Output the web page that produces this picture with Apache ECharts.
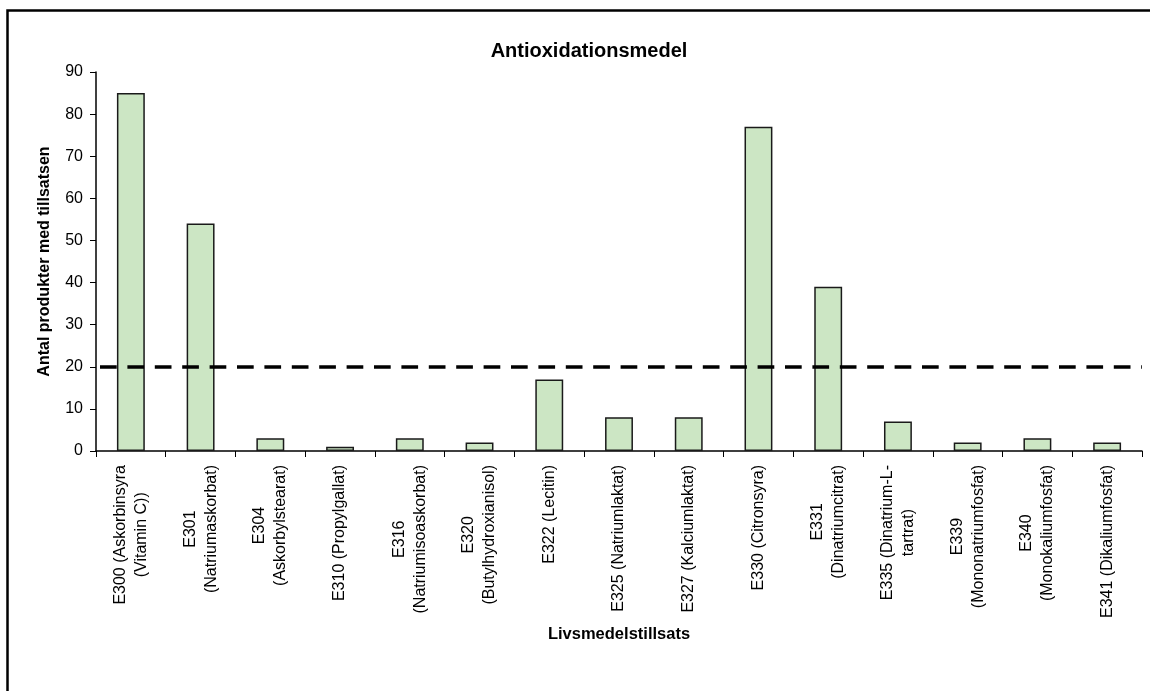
<!DOCTYPE html>
<html>
<head>
<meta charset="utf-8">
<title>Antioxidationsmedel</title>
<script src="https://cdn.jsdelivr.net/npm/echarts@6/dist/echarts.min.js"></script>
<style>
  html, body { margin: 0; padding: 0; background: #fff; }
  #chart { width: 1150px; height: 691px; }
</style>
</head>
<body>
<div id="chart"></div>
<script>
// Additives (E-numbers) with their names, line-broken as on the axis
const categories = [
  'E300 (Askorbinsyra\n(Vitamin C))',
  'E301\n(Natriumaskorbat)',
  'E304\n(Askorbylstearat)',
  'E310 (Propylgallat)',
  'E316\n(Natriumisoaskorbat)',
  'E320\n(Butylhydroxianisol)',
  'E322 (Lecitin)',
  'E325 (Natriumlaktat)',
  'E327 (Kalciumlaktat)',
  'E330 (Citronsyra)',
  'E331\n(Dinatriumcitrat)',
  'E335 (Dinatrium-L-\ntartrat)',
  'E339\n(Mononatriumfosfat)',
  'E340\n(Monokaliumfosfat)',
  'E341 (Dikaliumfosfat)'
];

// Number of products containing each additive
const productCounts = [85, 54, 3, 1, 3, 2, 17, 8, 8, 77, 39, 7, 2, 3, 2];

// Reference level drawn as a dashed horizontal line
const referenceLevel = 20;

// Value axis range
const yMin = 0;
const yMax = 90;
const yStep = 10;

const FONT = '"Liberation Sans", Arial, sans-serif';

const chart = echarts.init(document.getElementById('chart'));

chart.setOption({
  animation: false,
  backgroundColor: '#ffffff',
  title: {
    text: 'Antioxidationsmedel',
    left: 584,
    top: 36,
    textAlign: 'center',
    textStyle: { fontFamily: FONT, fontSize: 20, fontWeight: 'bold', color: '#000' }
  },
  graphic: [{
    type: 'rect',
    z: -1,
    silent: true,
    shape: { x: 7.5, y: 10.5, width: 1300, height: 1000 },
    style: { fill: 'none', stroke: '#000', lineWidth: 2.5 }
  }],
  grid: { left: 96, right: 8, top: 72, bottom: 240, containLabel: false },
  xAxis: {
    type: 'category',
    data: categories,
    name: 'Livsmedelstillsats',
    nameLocation: 'middle',
    nameGap: 167,
    nameTextStyle: { fontFamily: FONT, fontSize: 16.5, fontWeight: 'bold', color: '#000' },
    axisLine: { lineStyle: { color: '#000', width: 1.5 } },
    axisTick: { show: true, length: 6, lineStyle: { color: '#000', width: 1 } },
    axisLabel: {
      interval: 0,
      rotate: 90,
      margin: 14,
      formatter: function (v) {
        return v.split('\n').map(function (s) { return '{c|' + s + '}'; }).join('\n');
      },
      rich: {
        c: { align: 'center', fontFamily: FONT, fontSize: 16, lineHeight: 21, color: '#000' }
      }
    },
    splitLine: { show: false }
  },
  yAxis: {
    type: 'value',
    min: yMin,
    max: yMax,
    interval: yStep,
    name: 'Antal produkter med tillsatsen',
    nameLocation: 'middle',
    nameGap: 43,
    nameTextStyle: { fontFamily: FONT, fontSize: 16, fontWeight: 'bold', color: '#000' },
    axisLine: { show: true, lineStyle: { color: '#000', width: 1.5 } },
    axisTick: { show: true, length: 6, lineStyle: { color: '#000', width: 1 } },
    axisLabel: { margin: 13, fontFamily: FONT, fontSize: 16, color: '#000' },
    splitLine: { show: false }
  },
  series: [{
    type: 'bar',
    data: productCounts,
    barWidth: '40%',
    itemStyle: { color: '#cce6c4', borderColor: '#1a1a1a', borderWidth: 1.5 },
    markLine: {
      silent: true,
      symbol: ['none', 'none'],
      label: { show: false },
      lineStyle: { color: '#000', width: 3.5, type: [16.7, 10.7], dashOffset: 23.4 },
      data: [{ yAxis: referenceLevel }]
    }
  }]
});
</script>
</body>
</html>
